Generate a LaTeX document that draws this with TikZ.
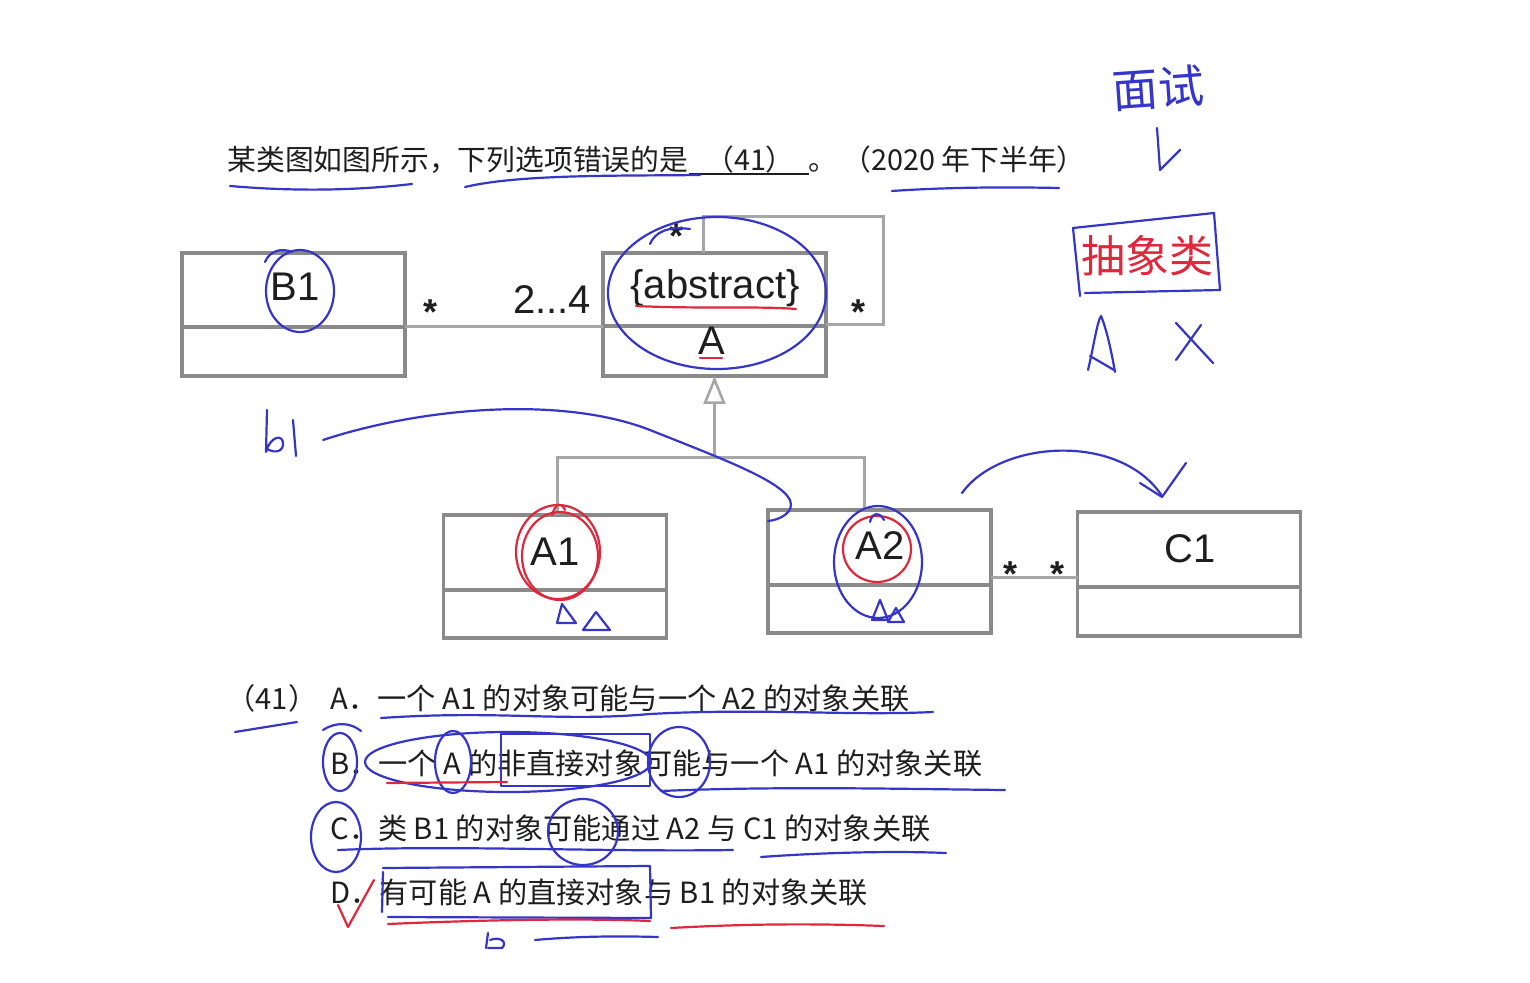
\documentclass[tikz,border=0pt]{standalone}
\usepackage{fontspec}
\setmainfont{Liberation Sans}
\newfontfamily\cjk{Noto Sans CJK SC}
\usetikzlibrary{arrows.meta}
\definecolor{boxgray}{HTML}{8A8A8A}
\definecolor{linegray}{HTML}{A6A6A6}
\definecolor{inkblue}{HTML}{3535C8}
\definecolor{inkred}{HTML}{E0283C}
\definecolor{txt}{HTML}{1E1E1E}
\begin{document}
\begin{tikzpicture}[x=0.5pt,y=-0.5pt,
  cls/.style={draw=boxgray, line width=1.6pt, fill=white, minimum width=111.5pt, minimum height=61.5pt, inner sep=0pt, outer sep=0pt},
  div/.style={draw=boxgray, line width=1.6pt},
  conn/.style={draw=linegray, line width=1.5pt},
  inh/.style={draw=linegray, line width=1.5pt, -{Triangle[open, length=14pt, width=11pt, line width=1.3pt]}},
  lbl/.style={text=txt, font=\fontsize{20pt}{24pt}\selectfont, inner sep=0pt},
  mult/.style={text=txt, font=\bfseries\fontsize{18pt}{20pt}\selectfont, inner sep=0pt},
  ctext/.style={text=txt, font=\cjk\fontsize{14.6pt}{17pt}\selectfont, inner sep=0pt, anchor=base west},
  ttext/.style={text=txt, font=\cjk\fontsize{14.4pt}{17pt}\selectfont, inner sep=0pt, anchor=base west},
  ink/.style={draw=inkblue, line width=1.1pt, line cap=round, line join=round},
  redink/.style={draw=inkred, line width=1.1pt, line cap=round, line join=round}]
\useasboundingbox (0,0) rectangle (1530,983);
\fill[white] (0,0) rectangle (1530,983);

% ---------- title ----------
\node[ttext] (title) at (227,171) {某类图如图所示，下列选项错误的是};
\node[ttext, anchor=base] (blank) at (750,171) {（41）};
\coordinate (bl) at (689,174);
\coordinate (br) at (809,174);
\draw[txt, line width=0.7pt] (bl) -- (br);
\node[ttext] (stop) at (808,171) {。};
\node[ttext] (year) at (842,171) {（2020 年下半年）};

% ---------- classes ----------
\node[cls] (B1) at (293.5,314.5) {};
\draw[div] (182,327) -- (405,327);
\node[lbl] (B1l) at (295,287) {B1};

\node[cls] (A) at (714.5,314.5) {};
\draw[div] (603,326) -- (826,326);
\node[lbl, anchor=base] (Aab) at (715,299) {\{abstract\}};
\node[lbl, anchor=base] (Al) at (712,355) {A};

\node[cls] (A1) at (555,576.5) {};
\draw[div] (444,590) -- (666,590);
\node[lbl] (A1l) at (555,552) {A1};

\node[cls] (A2) at (879.5,571.5) {};
\draw[div] (768,585) -- (991,585);
\node[lbl] (A2l) at (880,546) {A2};

\node[cls, minimum height=62pt] (C1) at (1189,574) {};
\draw[div] (1078,587) -- (1300,587);
\node[lbl] (C1l) at (1190,549) {C1};

% ---------- connectors ----------
\draw[conn] ([yshift=-6.25pt]B1.east) -- ([yshift=-6.25pt]A.west);
\node[mult] (m1) at (430,312) {*};
\node[lbl] (m2) at (552,300) {2...4};

\coordinate (selfc) at (883,217);
\draw[conn] ([xshift=-5.75pt]A.north) |- (selfc) |- ([yshift=-5.25pt]A.east);
\node[mult] (m3) at (676,236) {*};
\node[mult] (m4) at (858,312) {*};

\coordinate (J) at (714.5,458);
\draw[conn] ([xshift=1pt]A1.north) |- (J) -| ([xshift=-7.75pt]A2.north);
\draw[inh] (J) -- (A.south);

\draw[conn] ([yshift=-2.75pt]A2.east) -- ([yshift=-1.5pt]C1.west);
\node[mult] (m5) at (1010,574) {*};
\node[mult] (m6) at (1057,574) {*};

% ---------- options ----------
\node[ctext] (q) at (226,709) {（41）};
\node[ctext] (oA) at (330,709) {A．一个 A1 的对象可能与一个 A2 的对象关联};
\node[ctext] (oB) at (330,774) {B．一个 A 的非直接对象可能与一个 A1 的对象关联};
\node[ctext] (oC) at (330,839) {C．类 B1 的对象可能通过 A2 与 C1 的对象关联};
\node[ctext] (oD) at (330,903) {D．有可能 A 的直接对象与 B1 的对象关联};

% ---------- handwriting: title ----------
\draw[ink] (230,186) .. controls (300,192) and (360,190) .. (412,184);
\draw[ink] (465,187) .. controls (520,174) and (620,176) .. (700,175);
\draw[ink] (892,191) .. controls (950,187) and (1010,187) .. (1059,188);

% ---------- handwriting: top right ----------
\node[text=inkblue, font=\cjk\fontsize{23pt}{26pt}\selectfont, inner sep=0pt, rotate=4] (hw1) at (1158,88) {面试};
\draw[ink] (1157,128) -- (1160,170) -- (1180,150);
\draw[ink] (1073,228) -- (1214,213) -- (1220,290) -- (1085,293);
\draw[ink] (1073,228) -- (1080,296);
\node[text=inkred, font=\cjk\fontsize{22pt}{25pt}\selectfont, inner sep=0pt] (hw2) at (1147,256) {抽象类};
\draw[ink] (1088,370) .. controls (1094,345) and (1097,322) .. (1101,316) .. controls (1107,330) and (1112,355) .. (1115,372);
\draw[ink] (1090,356) -- (1114,370);
\draw[ink] (1176,323) -- (1213,363);
\draw[ink] (1201,325) -- (1176,360);

% ---------- handwriting: diagram ----------
\draw[ink] (300,291) ellipse [x radius=34, y radius=41];
\draw[ink] (265,262) .. controls (270,250) and (282,248) .. (292,252);
\draw[ink] (717,293) ellipse [x radius=109, y radius=76];
\draw[ink] (650,244) .. controls (655,232) and (668,226) .. (690,229);
\draw[redink] (636,306) .. controls (700,309) and (760,306) .. (796,309);
\draw[redink] (700,358) -- (722,358);

\draw[ink] (267,410) -- (266,452) .. controls (270,436) and (284,433) .. (283,445) .. controls (282,453) and (272,453) .. (266,448);
\draw[ink] (293,420) -- (296,456);
\draw[ink] (323,440) .. controls (420,408) and (560,395) .. (650,430) .. controls (720,458) and (780,480) .. (790,500) .. controls (795,512) and (780,520) .. (768,521);

\draw[redink] (558,552) ellipse [x radius=42, y radius=47];
\draw[redink] (560,556) ellipse [x radius=38, y radius=44];
\draw[redink] (552,515) .. controls (555,505) and (560,500) .. (565,510);
\draw[ink] (557,623) -- (562,604) -- (576,623) -- cycle;
\draw[ink] (583,630) -- (596,612) -- (610,630) -- cycle;

\draw[ink] (878,562) ellipse [x radius=44, y radius=56];
\draw[redink] (877,549) ellipse [x radius=34, y radius=33];
\draw[ink] (870,522) .. controls (872,512) and (880,512) .. (884,520);
\draw[ink] (872,620) -- (880,600) -- (888,620) -- cycle;
\draw[ink] (888,622) -- (896,608) -- (904,622) -- cycle;

\draw[ink] (962,493) .. controls (1000,440) and (1120,432) .. (1162,496);
\draw[ink] (1140,483) -- (1162,497) -- (1186,463);

% ---------- handwriting: options ----------
\draw[ink] (381,718) .. controls (500,710) and (560,722) .. (650,714) .. controls (760,708) and (850,716) .. (933,712);
\draw[ink] (235,732) -- (297,722);
\draw[ink] (323,730) .. controls (335,722) and (350,722) .. (361,731);

\draw[ink] (340,762) ellipse [x radius=17, y radius=29];
\draw[ink] (508,762) ellipse [x radius=143, y radius=30];
\draw[ink] (453,762) ellipse [x radius=18, y radius=31];
\draw[ink] (501,734) rectangle (650,786);
\draw[ink] (679,762) ellipse [x radius=31, y radius=35];
\draw[redink] (387,783) -- (507,782);
\draw[ink] (661,791) .. controls (780,786) and (900,789) .. (1005,790);

\draw[ink] (336,837) ellipse [x radius=25, y radius=35];
\draw[ink] (583,832) ellipse [x radius=35, y radius=33];
\draw[ink] (338,850) .. controls (450,845) and (600,852) .. (733,850);
\draw[ink] (761,857) .. controls (830,852) and (900,851) .. (946,853);

\draw[redink] (338,905) -- (348,927) -- (374,880);
\draw[ink] (383,868) -- (650,866) -- (651,918) -- (388,917);
\draw[ink] (383,872) -- (382,912);
\draw[redink] (388,924) .. controls (480,920) and (580,918) .. (650,921);
\draw[redink] (671,928) .. controls (760,923) and (830,924) .. (884,926);
\draw[ink] (486,948) -- (488,933);
\draw[ink] (490,940) .. controls (500,936) and (508,942) .. (502,948) -- (488,948);
\draw[ink] (535,940) .. controls (580,936) and (620,936) .. (658,937);
\end{tikzpicture}
\end{document}
